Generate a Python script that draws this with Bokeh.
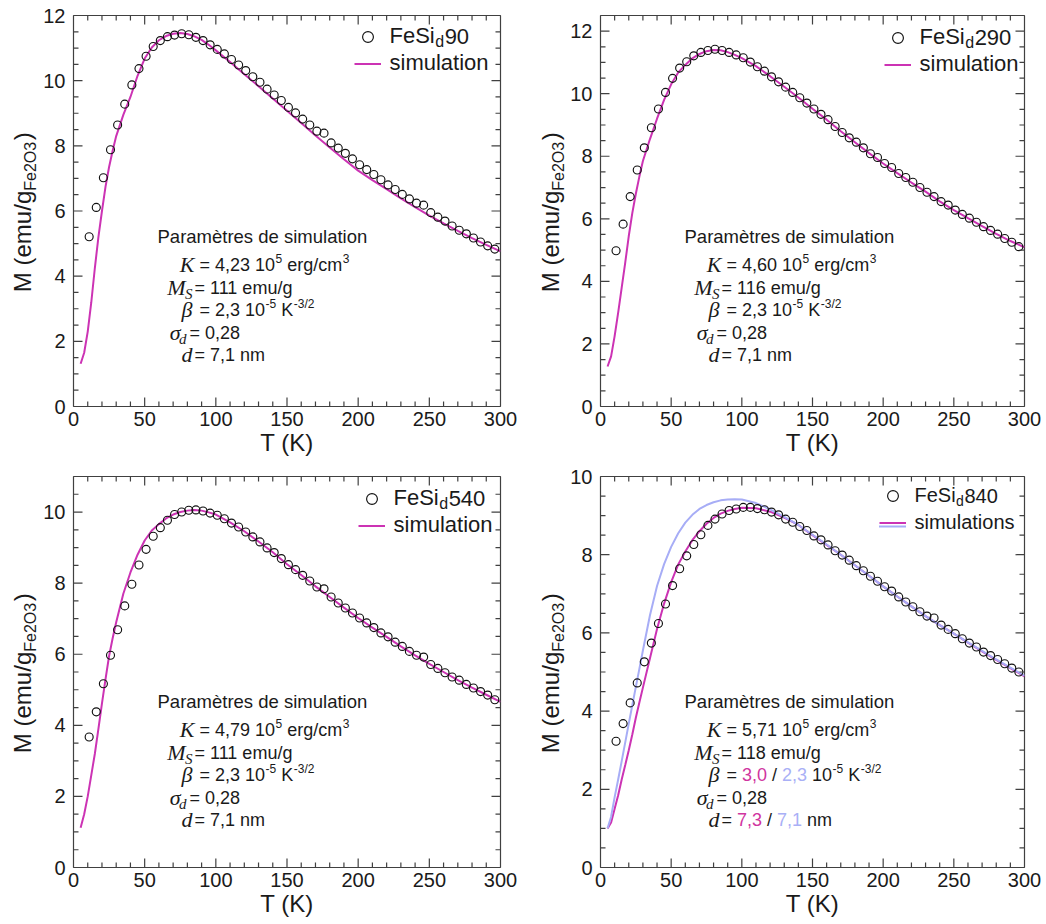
import math
from bokeh.plotting import figure
from bokeh.models import (Range1d, SingleIntervalTicker, Label, Legend,
                          LegendItem, BoxAnnotation)
from bokeh.layouts import gridplot
from bokeh.embed import file_html
from bokeh.resources import INLINE

# ---------------- data ----------------
T_DATA = [11, 16, 21, 26, 31, 36, 41, 46, 51, 56, 61, 66, 71, 76, 81, 86, 91, 96, 101, 106,
          111, 116, 121, 126, 131, 136, 141, 146, 151, 156, 161, 166, 171, 176, 181, 186, 191, 196, 201, 206,
          211, 216, 221, 226, 231, 236, 241, 246, 251, 256, 261, 266, 271, 276, 281, 286, 291, 296]

M_90 = [5.21, 6.11, 7.02, 7.88, 8.64, 9.28, 9.87, 10.37, 10.75, 11.05,
        11.23, 11.35, 11.40, 11.44, 11.41, 11.33, 11.23, 11.10, 10.96, 10.82,
        10.65, 10.48, 10.31, 10.12, 9.95, 9.74, 9.56, 9.39, 9.18, 9.01,
        8.82, 8.64, 8.45, 8.39, 8.09, 7.93, 7.77, 7.60, 7.42, 7.27,
        7.12, 6.96, 6.80, 6.66, 6.51, 6.37, 6.24, 6.18, 5.95, 5.81,
        5.69, 5.54, 5.41, 5.30, 5.17, 5.05, 4.93, 4.83]

M_290 = [4.98, 5.83, 6.71, 7.56, 8.27, 8.91, 9.51, 10.04, 10.49, 10.82,
         11.02, 11.21, 11.32, 11.38, 11.42, 11.38, 11.32, 11.24, 11.15, 11.01,
         10.86, 10.72, 10.54, 10.38, 10.21, 10.04, 9.87, 9.70, 9.51, 9.34,
         9.17, 8.95, 8.76, 8.59, 8.45, 8.27, 8.08, 7.96, 7.77, 7.64,
         7.45, 7.32, 7.17, 7.00, 6.85, 6.71, 6.55, 6.44, 6.28, 6.14,
         6.02, 5.89, 5.75, 5.63, 5.51, 5.37, 5.25, 5.11]

M_540 = [3.67, 4.38, 5.17, 5.97, 6.69, 7.36, 7.97, 8.51, 8.95, 9.32,
         9.56, 9.77, 9.93, 10.00, 10.05, 10.06, 10.03, 9.97, 9.91, 9.81,
         9.69, 9.58, 9.44, 9.30, 9.16, 8.99, 8.86, 8.69, 8.52, 8.38,
         8.22, 8.06, 7.89, 7.84, 7.61, 7.44, 7.30, 7.16, 7.02, 6.88,
         6.75, 6.60, 6.49, 6.34, 6.22, 6.08, 5.97, 5.92, 5.71, 5.60,
         5.48, 5.36, 5.27, 5.15, 5.05, 4.95, 4.85, 4.72]

M_840 = [3.23, 3.68, 4.21, 4.72, 5.26, 5.74, 6.24, 6.74, 7.21, 7.64,
         7.97, 8.26, 8.51, 8.75, 8.91, 9.04, 9.13, 9.17, 9.21, 9.21,
         9.18, 9.15, 9.09, 9.02, 8.91, 8.83, 8.72, 8.62, 8.48, 8.38,
         8.25, 8.10, 7.99, 7.86, 7.72, 7.59, 7.45, 7.32, 7.18, 7.07,
         6.92, 6.79, 6.67, 6.54, 6.43, 6.38, 6.20, 6.09, 5.98, 5.85,
         5.74, 5.64, 5.51, 5.42, 5.32, 5.21, 5.10, 5.00]

SIM_T = [5, 7.5, 10, 12.5, 15, 17.5, 20, 22.5, 25, 27.5,
         30, 35, 40, 45, 50, 55, 60, 65, 70, 75,
         80, 85, 90, 95, 100, 110, 120, 130, 140, 150,
         160, 170, 180, 190, 200, 210, 220, 230, 240, 250, 260, 270, 280, 290, 300]

SIM_90 = [1.31, 1.65, 2.3, 3.2, 4.25, 5.2, 6.0, 6.75, 7.35, 7.85,
          8.3, 8.95, 9.5, 10.15, 10.68, 11.02, 11.24, 11.37, 11.44, 11.46,
          11.43, 11.36, 11.25, 11.10, 10.93, 10.57, 10.20, 9.83, 9.45, 9.08,
          8.70, 8.32, 7.95, 7.59, 7.24, 6.95, 6.67, 6.39, 6.12, 5.86, 5.62, 5.39, 5.17, 4.96, 4.76]

SIM_290 = [1.28, 1.6, 2.25, 3.0, 3.8, 4.6, 5.45, 6.18, 6.8, 7.35,
           7.85, 8.55, 9.2, 9.8, 10.3, 10.68, 10.92, 11.13, 11.27, 11.36,
           11.40, 11.39, 11.33, 11.24, 11.14, 10.88, 10.56, 10.22, 9.88, 9.52,
           9.17, 8.80, 8.45, 8.10, 7.77, 7.46, 7.16, 6.87, 6.56, 6.28, 6.02, 5.77, 5.52, 5.29, 5.09]

SIM_540 = [1.12, 1.5, 2.0, 2.6, 3.2, 3.9, 4.62, 5.3, 5.95, 6.45,
           6.9, 7.7, 8.3, 8.8, 9.2, 9.48, 9.66, 9.82, 9.93, 10.0,
           10.04, 10.06, 10.04, 9.99, 9.93, 9.71, 9.46, 9.17, 8.87, 8.53,
           8.23, 7.91, 7.61, 7.31, 7.02, 6.75, 6.49, 6.22, 5.97, 5.73, 5.50, 5.27, 5.06, 4.86, 4.66]

SIM_840_A = [1.0, 1.15, 1.5, 1.85, 2.25, 2.62, 3.0, 3.4, 3.83, 4.22,
             4.6, 5.35, 6.1, 6.75, 7.3, 7.75, 8.08, 8.37, 8.6, 8.79,
             8.94, 9.05, 9.12, 9.17, 9.2, 9.19, 9.1, 8.95, 8.76, 8.5,
             8.25, 8.0, 7.73, 7.46, 7.19, 6.93, 6.68, 6.43, 6.2, 5.98, 5.75, 5.53, 5.31, 5.1, 4.89]

SIM_840_B = [1.0, 1.3, 1.8, 2.25, 2.72, 3.2, 3.68, 4.15, 4.62, 5.08,
             5.55, 6.45, 7.2, 7.76, 8.2, 8.55, 8.82, 9.02, 9.17, 9.27,
             9.34, 9.39, 9.41, 9.42, 9.41, 9.32, 9.16, 8.97, 8.76, 8.51,
             8.26, 8.0, 7.73, 7.46, 7.19, 6.93, 6.68, 6.43, 6.2, 5.98, 5.76, 5.54, 5.32, 5.11, 4.91]

SAMPLES = ["90", "290", "540", "840"]
Y_MAX = [12, 12.5, 11, 10]
K_VAL = ["4,23", "4,60", "4,79", "5,71"]
MS_VAL = ["111", "116", "111", "118"]
X_TICK_STEP, X_MINOR_STEP = 50, 10
Y_TICK_STEP, Y_MINOR_STEP = 2, 0.5

# ---------------- style ----------------
INK = "#1a1a1a"
FRAME = "#404040"
MAG = "#cc33b4"
BLUE = "#a7adf6"
MAG_TXT = "#d0359f"
BLUE_TXT = "#a9b0f6"
SANS = "Liberation Sans"
SERIF = "Liberation Serif"

AW = {' ': 278, ',': 278, '-': 333, '/': 278, '=': 584, '(': 333, ')': 333,
      'a': 556, 'b': 556, 'c': 500, 'd': 556, 'e': 556, 'g': 556, 'i': 222, 'l': 222,
      'm': 833, 'n': 556, 'o': 556, 'r': 333, 's': 500, 't': 278, 'u': 556, 'è': 556,
      'K': 667, 'P': 667, 'F': 611, 'S': 667, 'M': 833, 'T': 611, 'O': 778}


def tw(s, size):
    return sum(AW.get(c, 556) for c in s) * size / 1000.0


FH = 391
COLS = [dict(S=40, XC=22, L=33, W=427, R=33), dict(S=34, XC=17, L=33, W=424, R=20)]
ROWS = [dict(T=15, B=55, ytitle=221), dict(T=15, B=55, ytitle=225)]
LEG_CX = [294, 297, 298, 292]
LEG_TOP = [7.5, 8.5, 8.5, 5.5]
LEG_FS = [22, 22, 22, 20]


def put(p, x, y, text, size, color=INK, font=SANS, style="normal", align="left", angle=0.0):
    p.add_layout(Label(x=x, y=y, x_units="screen", y_units="screen", text=text,
                       text_font=font, text_font_size=f"{size}px", text_color=color,
                       text_font_style=style, text_align=align, text_baseline="middle",
                       angle=angle))


def put_top(p, x, ytop, text, size, **kw):
    put(p, x, FH - ytop, text, size, **kw)


def run(p, x, ytop, segs):
    for text, kind, color in segs:
        size = 18 if kind == "n" else 12
        dy = 0 if kind == "n" else -6
        core = text.strip(" ")
        if not core:
            x += tw(text, size)
            continue
        lead = len(text) - len(text.lstrip(" "))
        trail = len(text) - len(text.rstrip(" "))
        x += tw(" " * lead, size)
        if kind == "sup":
            x += 0.5
        put_top(p, x, ytop + dy, core, size, color=color)
        x += tw(core, size)
        x += tw(" " * trail, size)
    return x


def block(p, x_eq, yt, i):
    put_top(p, x_eq - 42, yt, "Paramètres de simulation", 18.5)
    yk, ym, yb, ys, yd = yt + 28, yt + 51, yt + 73, yt + 96, yt + 118
    it = dict(font=SERIF, style="italic", align="right")
    put_top(p, x_eq - 5, yk, "K", 22, **it)
    run(p, x_eq, yk, [("= " + K_VAL[i] + " 10", "n", INK), ("5", "sup", INK),
                      (" erg/cm", "n", INK), ("3", "sup", INK)])
    put_top(p, x_eq - 14, ym, "M", 22, **it)
    put_top(p, x_eq - 7, ym + 6, "S", 15, **it)
    run(p, x_eq - 5, ym, [("= " + MS_VAL[i] + " emu/g", "n", INK)])
    put_top(p, x_eq - 7, yb, "β", 22, **it)
    if i == 3:
        beta = [("3,0", "n", MAG_TXT), (" / ", "n", INK), ("2,3", "n", BLUE_TXT)]
        dval = [("7,3", "n", MAG_TXT), (" / ", "n", INK), ("7,1", "n", BLUE_TXT)]
    else:
        beta = [("2,3", "n", INK)]
        dval = [("7,1", "n", INK)]
    run(p, x_eq, yb, [("= ", "n", INK)] + beta +
        [(" 10", "n", INK), ("-5", "sup", INK), (" K", "n", INK), ("-3/2", "sup", INK)])
    put_top(p, x_eq - 19, ys, "σ", 22, **it)
    put_top(p, x_eq - 13, ys + 6, "d", 15, **it)
    run(p, x_eq - 10, ys, [("= 0,28", "n", INK)])
    put_top(p, x_eq - 7, yd, "d", 22, **it)
    run(p, x_eq - 5, yd, [("= ", "n", INK)] + dval + [(" nm", "n", INK)])


def style_axis(ax, standoff):
    ax.axis_line_color = None
    ax.major_tick_line_color = None
    ax.minor_tick_line_color = None
    ax.major_tick_in = 0
    ax.major_tick_out = 0
    ax.minor_tick_in = 0
    ax.minor_tick_out = 0
    ax.major_label_text_font = SANS
    ax.major_label_text_font_size = "20px"
    ax.major_label_text_color = INK
    ax.major_label_standoff = standoff


def grid_ticks(lo, hi, step):
    n = int(round((hi - lo) / step))
    return [lo + k * step for k in range(n + 1) if lo + k * step <= hi + 1e-9]


def draw_ticks(p, W, ymax):
    """Inward ticks: dash markers centred on the frame edges (the outer half is clipped)."""
    ey = ymax * 1e-5
    ex = 300 * 1e-5
    xt = [v for v in grid_ticks(0, 300, X_MINOR_STEP) if 0 < v < 300]
    yt = [v for v in grid_ticks(0, ymax, Y_MINOR_STEP) if 0 < v < ymax - 1e-9]
    xs, ys, sz, ang = [], [], [], []
    for v in xt:
        ln = 9 if v % X_TICK_STEP == 0 else 5
        for yb in (ey, ymax - ey):
            xs.append(v); ys.append(yb); sz.append(2 * ln); ang.append(math.pi / 2)
    for v in yt:
        ln = 9 if v % Y_TICK_STEP == 0 else 5
        for xb in (ex, 300 - ex):
            xs.append(xb); ys.append(v); sz.append(2 * ln); ang.append(0.0)
    p.scatter(x=xs, y=ys, size=sz, angle=ang, marker="dash",
              line_color=FRAME, line_width=1.2, fill_color=None)


def make_panel(i, data_m, sims):
    c = COLS[i % 2]
    r = ROWS[i // 2]
    W = c["W"]
    ymax = Y_MAX[i]
    p = figure(frame_width=W, frame_height=FH,
               x_range=Range1d(0, 300), y_range=Range1d(0, ymax),
               output_backend="svg", toolbar_location=None,
               min_border_left=c["L"], min_border_right=c["R"],
               min_border_top=r["T"], min_border_bottom=r["B"])
    p.outline_line_color = FRAME
    p.outline_line_width = 1.2
    p.xgrid.visible = False
    p.ygrid.visible = False

    xa = p.below[0]
    ya = p.left[0]
    xa.ticker = SingleIntervalTicker(interval=X_TICK_STEP, num_minor_ticks=5)
    ya.ticker = SingleIntervalTicker(interval=Y_TICK_STEP, num_minor_ticks=4)
    style_axis(xa, 5)
    style_axis(ya, 8)
    xa.axis_label = "T (K)"
    xa.axis_label_text_font = SANS
    xa.axis_label_text_font_size = "24px"
    xa.axis_label_text_font_style = "normal"
    xa.axis_label_text_color = INK
    xa.axis_label_standoff = 0

    lines = []
    for vals, col in sims:
        lines.append(p.line(SIM_T, vals, line_color=col, line_width=2))
    sc = p.scatter(T_DATA, data_m, marker="circle", size=8, fill_color=None,
                   line_color="#111111", line_width=1.15)
    draw_ticks(p, W, ymax)

    fs = LEG_FS[i]
    lx = LEG_CX[i] - 13.5
    ltop = LEG_TOP[i]
    leg = Legend(items=[LegendItem(label="FeSi", renderers=[sc]),
                        LegendItem(label=("simulations" if i == 3 else "simulation"),
                                   renderers=[lines[0]])],
                 location=(lx, FH - ltop - 54), orientation="vertical",
                 padding=0, margin=0, spacing=0, glyph_width=27, glyph_height=27,
                 label_height=27, label_standoff=9, label_text_font=SANS,
                 label_text_font_size=f"{fs}px", label_text_color=INK,
                 border_line_color=None, background_fill_alpha=0)
    p.add_layout(leg)
    r1 = ltop + 13.5
    xd = lx + 36 + tw("FeSi", fs)
    sub = round(fs * 0.72)
    put_top(p, xd, r1 + 5, "d", sub)
    put_top(p, xd + tw("d", sub) + 0.5, r1, SAMPLES[i], fs)
    if i == 3:
        r2 = r1 + 27
        p.add_layout(BoxAnnotation(left=lx, right=lx + 27, top=FH - (r2 + 3), bottom=FH - (r2 + 5),
                                   left_units="screen", right_units="screen",
                                   top_units="screen", bottom_units="screen",
                                   fill_color=BLUE, fill_alpha=1.0, line_color=None))

    block(p, 126, r["ytitle"], i)
    return p


def make_ylabel(i):
    c = COLS[i % 2]
    r = ROWS[i // 2]
    h = r["T"] + FH + r["B"]
    f = figure(width=c["S"], height=h, x_range=Range1d(0, 1), y_range=Range1d(0, 1),
               output_backend="svg", toolbar_location=None,
               x_axis_location=None, y_axis_location=None,
               min_border_left=0, min_border_right=0, min_border_top=0, min_border_bottom=0)
    f.outline_line_color = None
    f.xgrid.visible = False
    f.ygrid.visible = False
    l1 = tw("M (emu/g", 24)
    l2 = tw("Fe2O3", 16)
    l3 = tw(")", 24)
    y0 = FH / 2 - (l1 + l2 + l3) / 2 - 2
    xc = c["XC"]
    put(f, xc, y0, "M (emu/g", 24, angle=math.pi / 2)
    put(f, xc + 8, y0 + l1, "Fe2O3", 16, angle=math.pi / 2)
    put(f, xc, y0 + l1 + l2 + 1.5, ")", 24, angle=math.pi / 2)
    return f


p1 = make_panel(0, M_90, [(SIM_90, MAG)])
p2 = make_panel(1, M_290, [(SIM_290, MAG)])
p3 = make_panel(2, M_540, [(SIM_540, MAG)])
p4 = make_panel(3, M_840, [(SIM_840_A, MAG), (SIM_840_B, BLUE)])
yl = [make_ylabel(k) for k in range(4)]

grid = gridplot([[yl[0], p1, yl[1], p2], [yl[2], p3, yl[3], p4]], toolbar_location=None)
open("out.html", "w").write(file_html(grid, INLINE))
